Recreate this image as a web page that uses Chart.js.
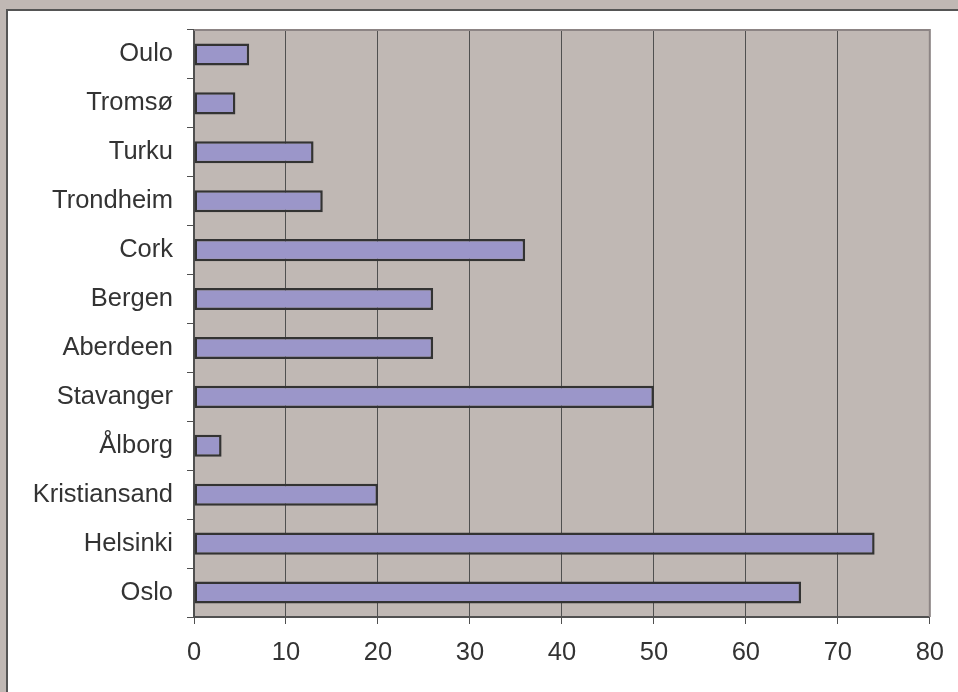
<!DOCTYPE html>
<html>
<head>
<meta charset="utf-8">
<script src="https://cdn.jsdelivr.net/npm/chart.js@4/dist/chart.umd.min.js"></script>
<style>
  html, body { margin: 0; padding: 0; background: #c0b8b4; }
  #wrap { width: 958px; height: 692px; position: relative; }
  canvas { display: block; }
</style>
</head>
<body>
<div id="wrap"><canvas id="c" width="958" height="692"></canvas></div>
<script>
const categories = ['Oulo', 'Tromsø', 'Turku', 'Trondheim', 'Cork', 'Bergen', 'Aberdeen', 'Stavanger', 'Ålborg', 'Kristiansand', 'Helsinki', 'Oslo'];
const values = [6, 4.5, 13, 14, 36, 26, 26, 50, 3, 20, 74, 66];
const xTicks = [0, 10, 20, 30, 40, 50, 60, 70, 80];

const bgPlugin = {
  id: 'bg',
  beforeDraw(chart) {
    const ctx = chart.ctx;
    const a = chart.chartArea;
    ctx.save();
    ctx.fillStyle = '#c0b8b4';
    ctx.fillRect(0, 0, chart.width, chart.height);
    ctx.fillStyle = '#ffffff';
    ctx.fillRect(7, 10, chart.width, chart.height);
    ctx.strokeStyle = '#555555';
    ctx.lineWidth = 2;
    ctx.beginPath();
    ctx.moveTo(7, chart.height + 5);
    ctx.lineTo(7, 10);
    ctx.lineTo(chart.width + 5, 10);
    ctx.stroke();
    ctx.fillStyle = '#c0b8b4';
    ctx.fillRect(a.left, a.top, a.right - a.left, a.bottom - a.top);
    ctx.restore();
  },
  afterDraw(chart) {
    const ctx = chart.ctx;
    const a = chart.chartArea;
    ctx.save();
    ctx.strokeStyle = '#8c8484';
    ctx.lineWidth = 2;
    ctx.beginPath();
    ctx.moveTo(a.left, a.top);
    ctx.lineTo(a.right, a.top);
    ctx.lineTo(a.right, a.bottom);
    ctx.stroke();
    ctx.restore();
  }
};

new Chart(document.getElementById('c'), {
  type: 'bar',
  data: {
    labels: categories,
    datasets: [{
      data: values,
      backgroundColor: '#9b96c9',
      borderColor: '#333333',
      borderWidth: 2.5,
      borderSkipped: false,
      categoryPercentage: 1,
      barPercentage: 0.45
    }]
  },
  options: {
    indexAxis: 'y',
    responsive: false,
    animation: false,
    devicePixelRatio: 1,
    layout: { padding: { left: 0, top: 30, right: 27, bottom: 0 } },
    plugins: { legend: { display: false }, tooltip: { enabled: false } },
    scales: {
      x: {
        min: 0, max: 80,
        afterBuildTicks: (s) => { s.ticks = xTicks.map(v => ({ value: v })); },
        afterFit: (s) => { s.height = 75; },
        ticks: { color: '#333333', font: { family: 'Liberation Sans, Arial, sans-serif', size: 25.5 }, padding: 14 },
        grid: {
          drawOnChartArea: true,
          color: (c) => (c.tick && c.tick.value === 80) ? '#8c8484' : '#505050',
          tickColor: '#505050',
          tickLength: 7,
          lineWidth: 1
        },
        border: { display: true, color: '#505050', width: 2 }
      },
      y: {
        afterFit: (s) => { s.width = 194; },
        ticks: { color: '#333333', font: { family: 'Liberation Sans, Arial, sans-serif', size: 25.5 }, padding: 14 },
        grid: {
          offset: true,
          drawOnChartArea: false,
          color: '#505050',
          tickLength: 7,
          lineWidth: 1
        },
        border: { display: true, color: '#505050', width: 2 }
      }
    }
  },
  plugins: [bgPlugin]
});
</script>
</body>
</html>
